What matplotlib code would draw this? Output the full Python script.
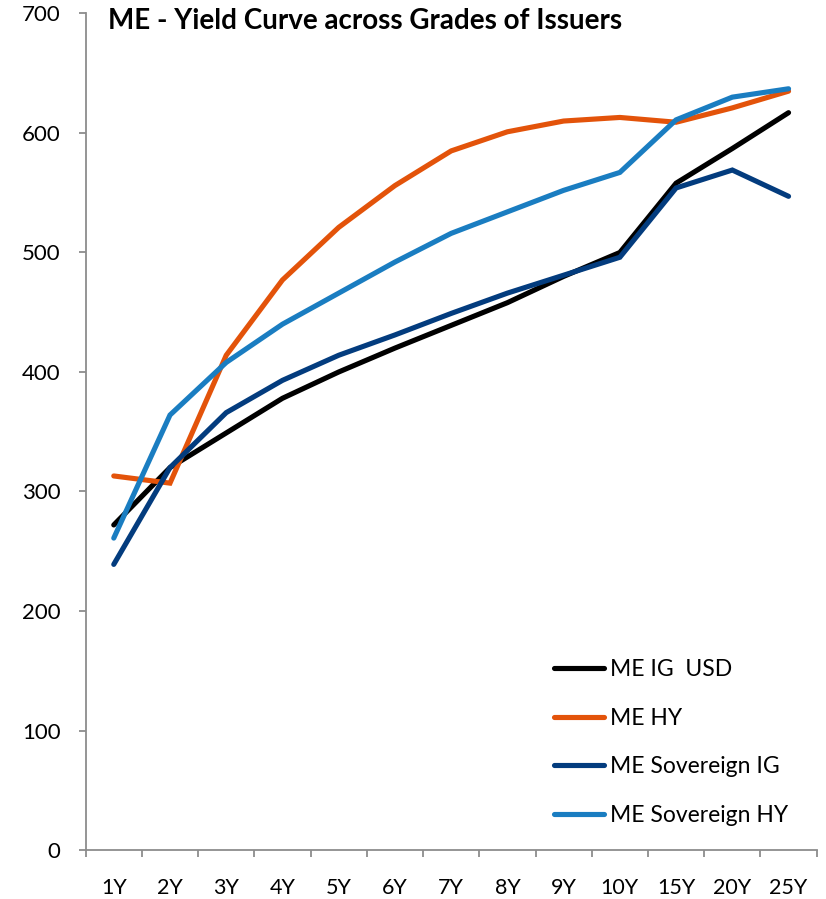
import matplotlib
matplotlib.use("Agg")
import matplotlib.pyplot as plt
import numpy as np

plt.rcParams['font.family'] = ['Lato', 'DejaVu Sans']

tenors = ["1Y", "2Y", "3Y", "4Y", "5Y", "6Y", "7Y", "8Y", "9Y", "10Y", "15Y", "20Y", "25Y"]
ig_usd = [272, 320, 349, 378, 400, 420, 439, 458, 480, 500, 558, 587, 617]
hy = [313, 307, 414, 477, 521, 556, 585, 601, 610, 613, 609, 621, 635]
sov_ig = [239, 320, 366, 393, 414, 431, 449, 466, 481, 496, 554, 569, 547]
sov_hy = [261, 364, 408, 440, 466, 492, 516, 534, 552, 567, 611, 630, 637]

series = [
    ("ME IG  USD", ig_usd, "#000000"),
    ("ME HY", hy, "#E3530A"),
    ("ME Sovereign IG", sov_ig, "#033C7E"),
    ("ME Sovereign HY", sov_hy, "#1A7DC1"),
]

fig = plt.figure(figsize=(8.26, 8.99), dpi=100)
ax = fig.add_axes([0.1037, 0.0545, 0.885, 0.9305])

x = np.arange(len(tenors))
for name, vals, color in series:
    ax.plot(x, vals, color=color, lw=3.7, label=name, solid_capstyle="round",
            solid_joinstyle="miter")

ax.set_xlim(-0.5, len(tenors) - 0.5)
ax.set_ylim(0, 700)
ax.set_yticks(np.arange(0, 701, 100))

ax.set_xticks(x)
ax.set_xticklabels(tenors)
ax.set_xticks(np.arange(-0.5, len(tenors), 1.0), minor=True)
ax.tick_params(axis="x", which="major", length=0, pad=20, labelsize=15.5)
ax.tick_params(axis="x", which="minor", length=5, width=1.3, color="#8c8c8c", direction="out")
ax.tick_params(axis="y", length=5, width=1.3, color="#8c8c8c", pad=13, labelsize=16)

for s in ("top", "right"):
    ax.spines[s].set_visible(False)
for s in ("left", "bottom"):
    ax.spines[s].set_color("#8c8c8c")
    ax.spines[s].set_linewidth(1.3)

fig.text(0.131, 0.977, "ME - Yield Curve across Grades of Issuers", fontsize=20,
         fontweight="bold", ha="left", va="center")

leg = ax.legend(loc="upper left", bbox_to_anchor=(0.659, 0.277), bbox_transform=fig.transFigure,
                frameon=False, fontsize=16.5, handlelength=2.2, handletextpad=0.25,
                labelspacing=1.2, borderaxespad=0)

fig.savefig("out.png", dpi=100)
